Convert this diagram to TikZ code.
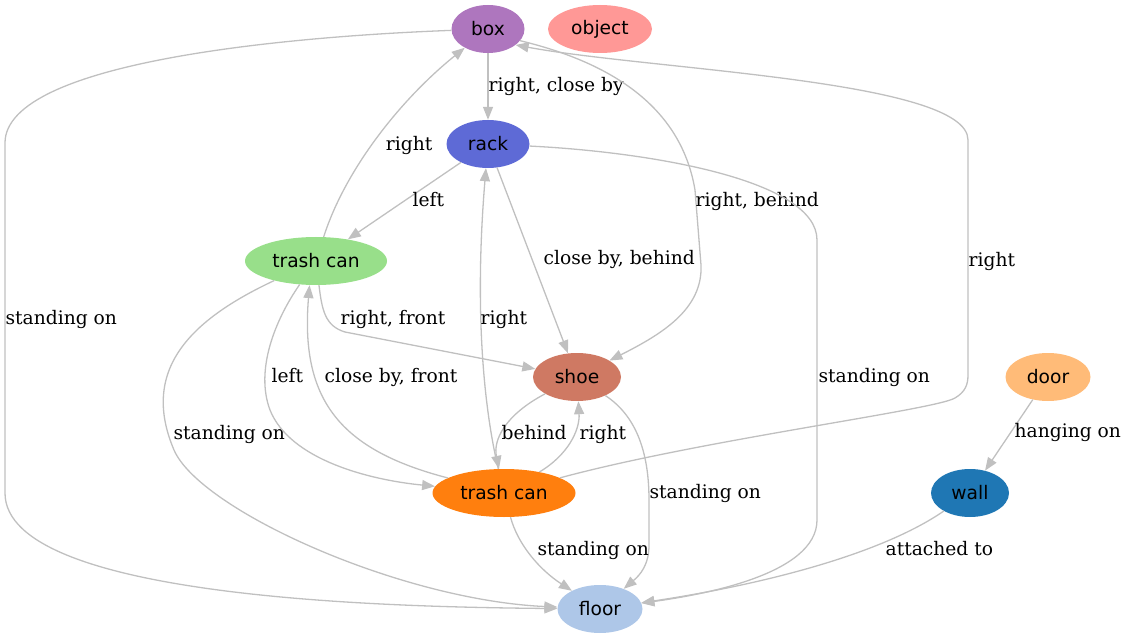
\documentclass[tikz,border=0pt]{standalone}
\usepackage{fontspec}
\setmainfont{DejaVu Serif}
\newfontfamily\nodefont{DejaVu Sans}
\usetikzlibrary{arrows.meta,shapes.geometric}
\definecolor{boxcol}{HTML}{AE76BE}
\definecolor{objcol}{HTML}{FF9896}
\definecolor{rackcol}{HTML}{5E6AD6}
\definecolor{tcangreen}{HTML}{98DF8A}
\definecolor{shoecol}{HTML}{CF7963}
\definecolor{doorcol}{HTML}{FFBB78}
\definecolor{tcanorange}{HTML}{FF7F0E}
\definecolor{wallcol}{HTML}{1F77B4}
\definecolor{floorcol}{HTML}{AEC7E8}
\definecolor{edgecol}{HTML}{C0C0C0}

\begin{document}
\begin{tikzpicture}[x=1pt,y=-1pt,
  obj/.style={ellipse, inner sep=0pt, minimum height=48pt,
    font=\nodefont\fontsize{18.67}{22}\selectfont},
  rel/.style={draw=edgecol, line width=1.3pt,
    -{Triangle[length=13pt,width=10pt]}},
  lbl/.style={inner sep=0pt, anchor=base west, text=black,
    font=\fontsize{18.67}{22}\selectfont}]
  \useasboundingbox (0,0) rectangle (1125,639);

  % objects
  \node[obj, fill=boxcol, minimum width=73pt] (box) at (488,29) {box};
  \node[obj, fill=objcol, minimum width=104pt] (object) at (600,29) {object};
  \node[obj, fill=rackcol, minimum width=83pt] (rack) at (488,144) {rack};
  \node[obj, fill=tcangreen, minimum width=142pt] (trashA) at (316,261) {trash can};
  \node[obj, fill=shoecol, minimum width=88pt] (shoe) at (577,377) {shoe};
  \node[obj, fill=doorcol, minimum width=85pt] (door) at (1048,377) {door};
  \node[obj, fill=tcanorange, minimum width=143pt] (trashB) at (504,493) {trash can};
  \node[obj, fill=wallcol, minimum width=78pt] (wall) at (970,493) {wall};
  \node[obj, fill=floorcol, minimum width=85pt] (floor) at (600,609) {floor};

  % relations
  \draw[rel] (box) .. controls (300,36) and (5,60) .. (5,143) -- (5,493)
    node[lbl, at={(5,324)}] {standing on}
    .. controls (5,600) and (400,607) .. (floor);
  \draw[rel] (box) -- (rack) node[lbl, at={(488,92)}] {right, close by};
  \draw[rel] (trashA) .. controls (345,170) and (400,100) .. (box)
    node[lbl, anchor=base east, at={(433,151)}] {right};
  \draw[rel] (rack) -- (trashA) node[lbl, at={(412,207)}] {left};
  \draw[rel] (box.-20) .. controls (600,60) and (680,100) .. (695,190) -- (701,265)
    node[lbl, at={(695,207)}] {right, behind}
    .. controls (703,310) and (660,335) .. (shoe);
  \draw[rel] (rack) -- (shoe) node[lbl, at={(543,265)}] {close by, behind};
  \draw[rel] (rack) .. controls (650,152) and (817,180) .. (817,240) -- (817,520)
    node[lbl, at={(818,382)}] {standing on}
    .. controls (817,575) and (700,595) .. (floor);
  \draw[rel] (trashA) .. controls (322,310) and (325,326) .. (345,332) -- (shoe)
    node[lbl, at={(340,324)}] {right, front};
  \draw[rel] (trashB) .. controls (482,400) and (475,300) .. (rack)
    node[lbl, at={(480,324)}] {right};
  \draw[rel] (trashA) .. controls (190,320) and (140,370) .. (174,450)
    node[lbl, at={(173,439)}] {standing on}
    .. controls (200,510) and (400,600) .. (floor);
  \draw[rel] (trashA) .. controls (275,320) and (255,370) .. (270,410)
    node[lbl, at={(271,382)}] {left}
    .. controls (290,460) and (370,480) .. (trashB);
  \draw[rel] (trashB.165) .. controls (340,450) and (300,400) .. (trashA.-105)
    node[lbl, at={(324,382)}] {close by, front};
  \draw[rel] (shoe) .. controls (505,415) and (493,440) .. (trashB)
    node[lbl, at={(501,439)}] {behind};
  \draw[rel] (trashB) .. controls (568,455) and (580,430) .. (shoe)
    node[lbl, at={(579,439)}] {right};
  \draw[rel] (shoe) .. controls (635,415) and (649,450) .. (649,500) -- (649,545)
    node[lbl, at={(649,498)}] {standing on}
    .. controls (649,565) and (640,575) .. (floor);
  \draw[rel] (trashB) .. controls (518,545) and (540,570) .. (floor)
    node[lbl, at={(537,555)}] {standing on};
  \draw[rel] (trashB) .. controls (700,440) and (935,410) .. (955,398)
    .. controls (965,392) and (968,385) .. (968,375) -- (968,140)
    node[lbl, at={(968,266)}] {right}
    .. controls (968,80) and (650,70) .. (box.-30);
  \draw[rel] (door) -- (wall) node[lbl, at={(1014,437)}] {hanging on};
  \draw[rel] (wall) .. controls (880,555) and (760,585) .. (floor)
    node[lbl, at={(885,555)}] {attached to};
\end{tikzpicture}
\end{document}
